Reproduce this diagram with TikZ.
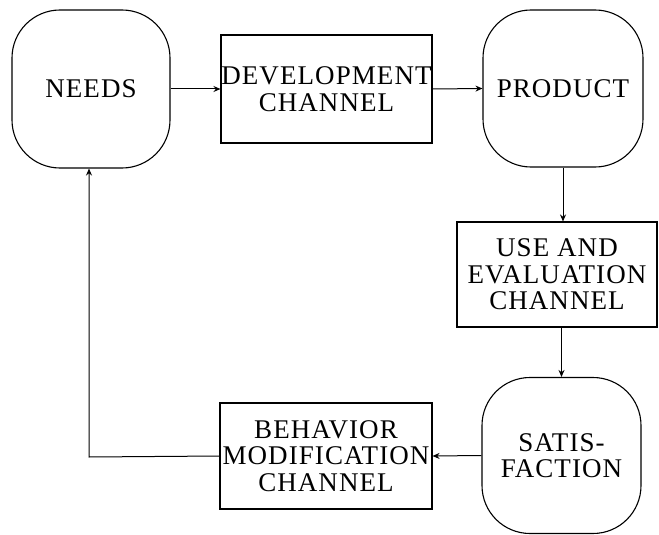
\documentclass[tikz,border=0pt]{standalone}
\usepackage{fontspec}
\setmainfont{Liberation Serif}[LetterSpace=4]
\usetikzlibrary{arrows.meta}
\begin{document}
\begin{tikzpicture}[x=1pt,y=-1pt,
  every node/.style={font=\fontsize{27}{26.5}\selectfont, align=center, inner sep=0pt},
  stage/.style={draw, line width=1.1pt, rounded corners=48pt},
  channel/.style={draw, line width=1.1pt},
  flow/.style={line width=1pt, -{Stealth[length=7pt,width=6pt]}}]
\useasboundingbox (0,0) rectangle (659,535);
\node[stage, minimum width=158pt, minimum height=158pt] (needs) at (91,89) {NEEDS};
\node[channel, minimum width=211pt, minimum height=108pt] (dev) at (326.5,89) {DEVELOPMENT\\CHANNEL};
\node[stage, minimum width=160pt, minimum height=157pt] (prod) at (563,88.5) {PRODUCT};
\node[channel, minimum width=200pt, minimum height=105pt] (use) at (557,274.5) {USE AND\\EVALUATION\\CHANNEL};
\node[stage, minimum width=159pt, minimum height=156pt] (sat) at (561.5,455.5) {SATIS-\\FACTION};
\node[channel, minimum width=212pt, minimum height=106pt] (beh) at (326,456) {BEHAVIOR\\MODIFICATION\\CHANNEL};
\coordinate (corner) at (89,457);
\draw[flow] (needs.east) -- (dev.west);
\draw[flow] (dev.east) -- (prod.west);
\draw[flow] (prod.south) -- (prod.south |- use.north);
\draw[flow] (use.south -| sat.north) -- (sat.north);
\draw[flow] (sat.west) -- (beh.east);
\draw[flow] (beh.west) -- (corner) -- (corner |- needs.south);
\end{tikzpicture}
\end{document}
